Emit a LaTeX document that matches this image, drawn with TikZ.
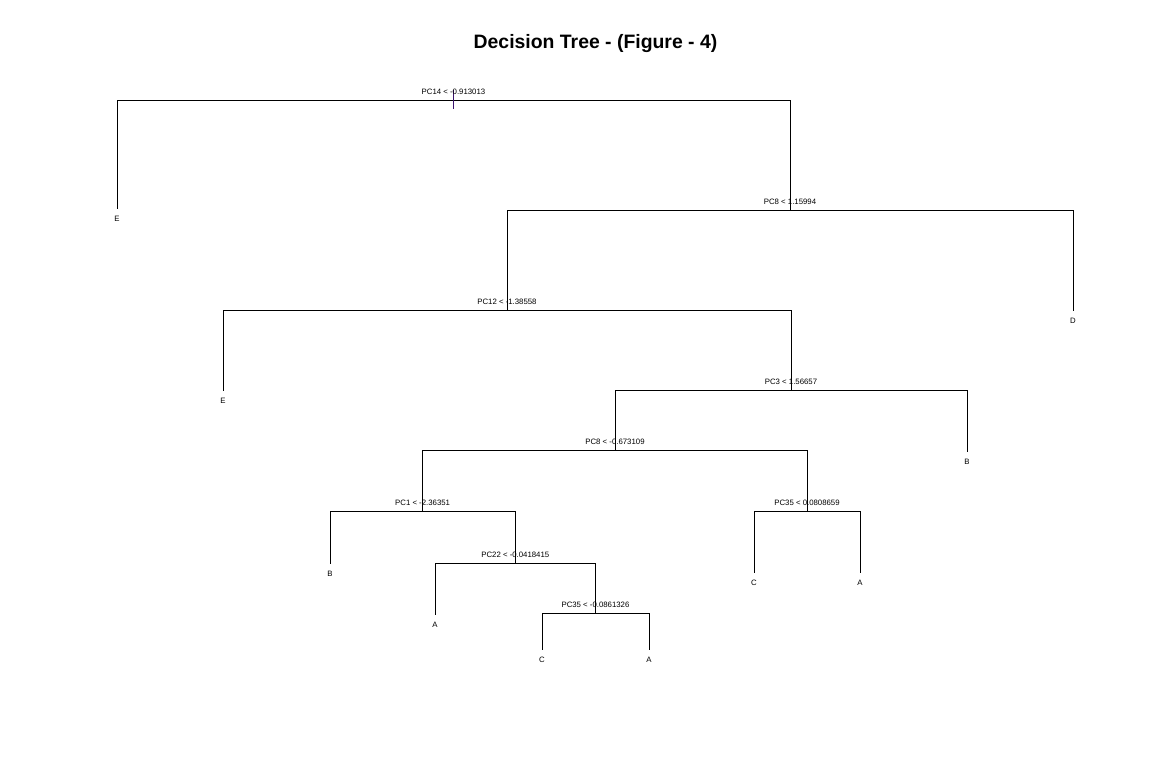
\documentclass[tikz,border=0pt]{standalone}
\usepackage{fontspec}
\setmainfont{Liberation Sans}
\usetikzlibrary{positioning}
\definecolor{stubcol}{RGB}{60,20,110}
\tikzset{
  split/.style={font=\fontsize{3.9}{4.5}\selectfont, inner sep=0pt, anchor=south, yshift=2.6pt},
  leaf/.style={font=\fontsize{3.9}{4.5}\selectfont, inner sep=3.6pt},
  branch/.style={line width=0.5pt}
}
\begin{document}
\begin{tikzpicture}[x=0.5pt,y=-0.5pt]
  \useasboundingbox (0,0) rectangle (1152,768);
  %titolo
  \node[font=\bfseries\fontsize{9.7}{11}\selectfont] (title) at (595.5,43.5) {Decision Tree - (Figure - 4)};
  %nodi interni
  \coordinate (s1) at (453.5,100);
  \coordinate (s2) at (790,210);
  \coordinate (s3) at (507,310);
  \coordinate (s4) at (791,390);
  \coordinate (s5) at (615,450);
  \coordinate (s6) at (422.6,511);
  \coordinate (s7) at (807,511);
  \coordinate (s8) at (515.3,563);
  \coordinate (s9) at (595.5,613);
  %foglie
  \node[leaf] (lE1) at (117,219) {E};
  \node[leaf] (lD) at (1073,321) {D};
  \node[leaf] (lE2) at (223,401) {E};
  \node[leaf] (lB1) at (967,462) {B};
  \node[leaf] (lB2) at (330,574) {B};
  \node[leaf] (lC2) at (754,583) {C};
  \node[leaf] (lA3) at (860,583) {A};
  \node[leaf] (lA1) at (435,625) {A};
  \node[leaf] (lC1) at (542,660) {C};
  \node[leaf] (lA2) at (649,660) {A};
  %rami
  \draw[branch] (lE1.north) |- (s1) -| (s2);
  \draw[branch] (s3) |- (s2) -| (lD.north);
  \draw[branch] (lE2.north) |- (s3) -| (s4);
  \draw[branch] (s5) |- (s4) -| (lB1.north);
  \draw[branch] (s6) |- (s5) -| (s7);
  \draw[branch] (lB2.north) |- (s6) -| (s8);
  \draw[branch] (lC2.north) |- (s7) -| (lA3.north);
  \draw[branch] (lA1.north) |- (s8) -| (s9);
  \draw[branch] (lC1.north) |- (s9) -| (lA2.north);
  %radice
  \coordinate (stubtop) at (453.5,90);
  \coordinate (stubbot) at (453.5,109);
  \draw[stubcol, line width=0.7pt] (stubtop) -- (stubbot);
  %condizioni
  \node[split] (t1) at (s1) {PC14 < -0.913013};
  \node[split] (t2) at (s2) {PC8 < 1.15994};
  \node[split] (t3) at (s3) {PC12 < -1.38558};
  \node[split] (t4) at (s4) {PC3 < 1.56657};
  \node[split] (t5) at (s5) {PC8 < -0.673109};
  \node[split] (t6) at (s6) {PC1 < -2.36351};
  \node[split] (t7) at (s7) {PC35 < 0.0808659};
  \node[split] (t8) at (s8) {PC22 < -0.0418415};
  \node[split] (t9) at (s9) {PC35 < -0.0861326};
\end{tikzpicture}
\end{document}
